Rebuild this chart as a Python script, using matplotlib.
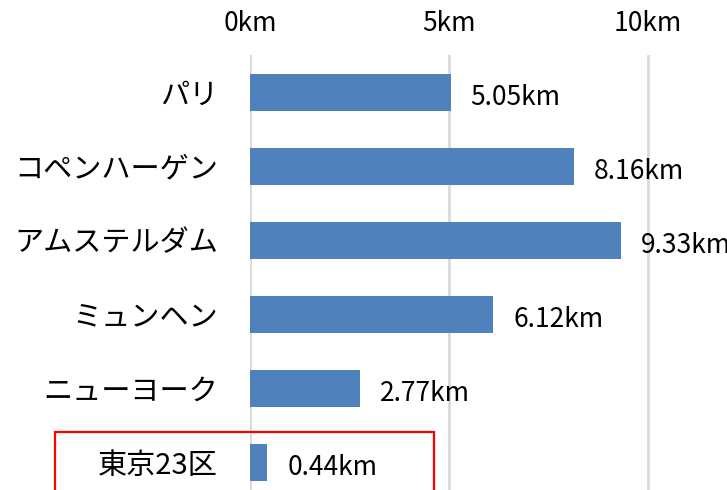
import matplotlib
matplotlib.use("Agg")
import matplotlib.pyplot as plt
from matplotlib.patches import Rectangle

plt.rcParams['font.family'] = ['Noto Sans CJK JP', 'DejaVu Sans']

cities = ["パリ", "コペンハーゲン", "アムステルダム", "ミュンヘン", "ニューヨーク", "東京23区"]
dist = [5.05, 8.16, 9.33, 6.12, 2.77, 0.44]
ticks = [0, 5, 10]
tick_labels = ["0km", "5km", "10km"]

fig = plt.figure(figsize=(7.27, 4.90), dpi=100)
ax = fig.add_axes([250/727, 0, 477/727, 435/490])

y = list(range(len(cities)))
ax.barh(y, dist, height=0.5, color="#4F81BD", zorder=3)
for yi, v in zip(y, dist):
    ax.text(v + 0.5, yi + 0.07, f"{v:.2f}km", va="center", ha="left", fontsize=19)

ax.set_xlim(0, 12)
ax.set_ylim(len(cities) - 1 + 0.378, -0.5)
ax.set_xticks(ticks)
ax.set_xticklabels(tick_labels, fontsize=19)
ax.xaxis.tick_top()
ax.set_yticks(y)
ax.set_yticklabels(cities, fontsize=21)
ax.tick_params(axis="both", length=0)
ax.tick_params(axis="x", pad=13)
ax.tick_params(axis="y", pad=23)
ax.grid(axis="x", color="#d9d9d9", linewidth=2, zorder=0)
for s in ax.spines.values():
    s.set_visible(False)

# red box around Tokyo row
fig.patches.append(Rectangle((55/727, -0.05), (434-55)/727, (490-432)/490 + 0.05,
                             transform=fig.transFigure, fill=False,
                             edgecolor="red", linewidth=1.6))

fig.savefig("out.png", dpi=100)
